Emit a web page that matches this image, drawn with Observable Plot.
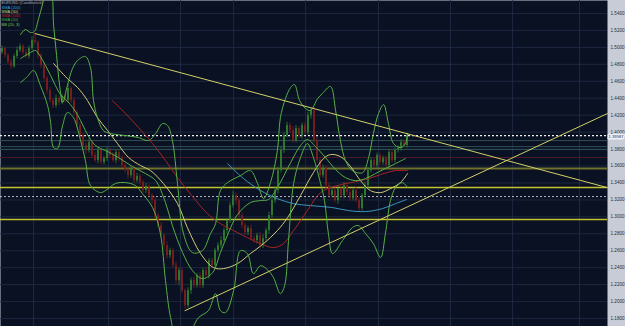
<!DOCTYPE html>
<html><head><meta charset="utf-8">
<script src="https://cdn.jsdelivr.net/npm/d3@7"></script>
<script src="https://cdn.jsdelivr.net/npm/@observablehq/plot@0.6"></script>
<style>html,body{margin:0;padding:0;background:#c8ccd6;overflow:hidden}</style>
</head><body><div id="chart"></div>
<script>
// ---- candle data (EURUSD) ----
const firstOpen = 1.4940;
const close = [
1.4986,1.4904,1.4821,1.4774,1.4892,1.4963,1.5010,1.4939,1.4892,1.4986,1.5081,1.5057,
1.4904,1.4786,1.4632,1.4490,1.4372,1.4313,1.4396,1.4349,1.4420,1.4372,1.4514,
1.4372,1.4231,1.4077,1.3959,1.3841,1.3782,1.3877,1.3723,1.3664,1.3782,1.3640,1.3688,
1.3782,1.3723,1.3664,1.3758,1.3688,1.3605,1.3546,1.3487,1.3570,1.3428,
1.3475,1.3404,1.3310,1.3357,1.3251,1.3192,1.3015,1.2897,1.2779,1.2661,1.2542,1.2601,
1.2424,1.2247,1.2365,1.2129,1.1952,1.2129,1.2247,1.2188,1.2306,1.2188,
1.2365,1.2306,1.2483,1.2424,1.2601,1.2661,1.2720,1.2838,1.2956,1.3133,1.3251,1.3192,
1.3015,1.2897,1.2814,1.2861,1.2743,1.2720,1.2779,1.2661,1.2743,1.2838,
1.3015,1.3192,1.3310,1.3546,1.3782,1.3959,1.4077,1.4018,1.3900,1.4042,1.3959,1.4077,1.3995,
1.4195,1.4254,1.3900,1.3664,1.3487,1.3570,1.3369,1.3251,1.3310,1.3192,1.3333,
1.3251,1.3369,1.3286,1.3215,1.3310,1.3192,1.3097,1.3251,1.3369,
1.3546,1.3664,1.3605,1.3723,1.3640,1.3688,1.3605,1.3758,1.3664,1.3782,
1.3806,1.3877,1.3841,1.39587];
const wickUpPips = [
30,25,20,35,28,40,30,22,35,30,45,82, 20,25,30,28,35,22,40,25,30,28,45,20,
30,25,35,28,30,40,25,35,30,28,22,40, 30,35,25,30,40,28,35,30,25,38,30,28,
35,30,25,40,30,35,28,45,30,25,40,30, 28,20,35,30,45,28,35,30,40,25,30,28,
35,45,30,25,40,50,30,28,35,30,25,40, 30,28,35,45,30,40,35,50,30,45,35,40,
30,45,36,25,30,35,40,28,30,35,25,40, 30,28,35,40,30,25,35,30,40,28,35,30,
25,40,30,31];
const wickDownPips = [
25,30,28,35,22,30,25,35,28,30,25,30, 40,35,30,45,28,35,30,40,25,30,28,35,
30,40,35,28,45,30,35,25,40,30,28,35, 30,25,40,35,30,28,45,30,35,25,40,30,
35,30,45,40,35,30,50,40,35,30,45,59, 35,40,30,45,35,30,40,35,30,45,35,30,
28,35,30,40,35,30,45,35,40,30,35,28, 35,40,30,35,28,45,30,35,40,30,35,28,
30,35,25,40,45,30,35,40,30,28,35,30, 40,35,30,28,45,35,40,30,35,30,28,35,
30,25,35,30];

// ---- indicators (bar index, price) ----
const bbUpperBars = [6.2,7.8,9.5,10.8,12.2,13.5,14.5,16.2,17.2,18.2,19.2,20.2,21.8,23.5,25.2,27.8,29.5,30.5,31.8,33.8,36.2,41.2,45.5,48.8,51.2,53.5,55.2,56.8,58.5,60.5,63.5,66.8,69.5,71.2,72.8,75.2,79.5,82.8,85.2,87.2,89.5,91.8,92.8,94.5,96.2,97.5,99.2,101.2,102.8,105.2,106.8,109.5,111.2,112.8,114.5,116.8,120.2,122.2,123.8,125.5,127.2,128.8,130.5,132.8,134.5,135.2];
const bbUpperPrices = [1.5152,1.5211,1.5175,1.5187,1.5340,1.5506,1.5647,1.5647,1.5258,1.4904,1.4550,1.4349,1.4550,1.4750,1.4845,1.4892,1.4762,1.4372,1.4172,1.4018,1.3983,1.3959,1.3936,1.3900,1.3983,1.4101,1.4077,1.3900,1.3393,1.2802,1.2578,1.2601,1.2802,1.2920,1.3310,1.3404,1.3487,1.3546,1.3393,1.3215,1.3404,1.3782,1.4172,1.4396,1.4526,1.4561,1.4372,1.4278,1.4254,1.4396,1.4455,1.4538,1.4254,1.3900,1.3664,1.3546,1.3522,1.3700,1.3983,1.4219,1.4325,1.4101,1.3865,1.3817,1.3865,1.3983];
const bbMiddleBars = [6.2,9.5,11.2,12.8,14.5,16.2,17.8,19.5,21.2,22.8,24.5,26.2,27.8,29.5,31.2,32.8,34.5,38.8,43.5,47.8,51.2,54.5,56.8,60.2,63.5,66.8,70.2,72.8,75.5,78.5,82.8,86.2,88.8,91.8,96.2,99.5,101.8,104.5,107.8,111.2,114.5,117.8,121.2,124.5,127.8,131.2,134.5];
const bbMiddlePrices = [1.4868,1.4939,1.4963,1.4892,1.4786,1.4668,1.4550,1.4443,1.4384,1.4325,1.4243,1.4136,1.4018,1.3912,1.3841,1.3806,1.3782,1.3700,1.3593,1.3511,1.3428,1.3168,1.2897,1.2578,1.2365,1.2271,1.2342,1.2578,1.2814,1.3027,1.3168,1.3192,1.3204,1.3345,1.3640,1.3841,1.3912,1.3829,1.3700,1.3558,1.3463,1.3428,1.3452,1.3511,1.3570,1.3629,1.3688];
const bbLowerBars = [6.2,8.5,10.5,12.8,15.2,16.2,17.2,18.5,20.2,21.8,23.8,26.2,27.8,29.5,32.8,34.5,37.8,41.2,44.5,46.8,50.2,52.8,54.5,56.2,57.8,62.2,65.5,68.8,71.2,72.8,74.5,77.2,79.5,81.8,83.8,86.2,88.8,90.5,92.8,94.2,95.5,97.2,99.5,101.8,103.8,106.2,107.5,108.8,110.2,113.5,116.8,118.8,121.2,123.8,126.2,127.8,129.5,131.2,133.5,135.2];
const bbLowerPrices = [1.4585,1.4656,1.4727,1.4550,1.4313,1.4113,1.3817,1.3806,1.4077,1.4231,1.4172,1.3900,1.3664,1.3369,1.3286,1.3310,1.3393,1.3404,1.3369,1.3274,1.3109,1.2802,1.2247,1.1811,1.1633,1.1633,1.1811,1.1893,1.2094,1.1893,1.1870,1.2129,1.2601,1.2566,1.2330,1.2424,1.2365,1.2283,1.2094,1.2188,1.2720,1.3393,1.3700,1.3865,1.3700,1.3393,1.3192,1.2802,1.2566,1.2720,1.2873,1.2897,1.2802,1.2684,1.2519,1.2802,1.3192,1.3345,1.3404,1.3345];
const sma50Bars = [17.2,21.8,25.2,28.5,31.8,35.2,38.5,42.2,46.2,49.5,53.8,58.5,61.8,66.2,70.5,73.8,78.5,82.8,87.2,91.8,95.2,99.5,103.8,107.2,109.5,112.8,116.2,119.5,122.8,126.2,129.5,132.8,135.2];
const sma50Prices = [1.4809,1.4632,1.4526,1.4372,1.4172,1.4018,1.3865,1.3700,1.3605,1.3546,1.3393,1.3156,1.2873,1.2566,1.2401,1.2389,1.2448,1.2566,1.2684,1.2838,1.2991,1.3251,1.3522,1.3688,1.3735,1.3711,1.3593,1.3428,1.3310,1.3286,1.3333,1.3404,1.3511];
const sma100Bars = [36.8,41.2,45.5,50.2,54.5,58.5,63.8,68.5,72.8,77.2,81.8,86.2,90.5,93.8,97.2,101.8,106.2,110.5,116.2,121.2,126.2,131.2,135.2];
const sma100Prices = [1.4372,1.4219,1.4054,1.3865,1.3664,1.3463,1.3227,1.3038,1.2920,1.2838,1.2755,1.2684,1.2637,1.2684,1.2838,1.3074,1.3286,1.3357,1.3404,1.3440,1.3499,1.3546,1.3546];
const sma200Bars = [75.2,80.5,86.2,91.8,97.2,102.8,110.2,115.5,121.2,126.8,131.2,134.8];
const sma200Prices = [1.3629,1.3452,1.3310,1.3215,1.3156,1.3133,1.3109,1.3074,1.3062,1.3097,1.3156,1.3204];

// ---- trend lines and levels ----
const trendDownBars = [11, 201.8];
const trendDownPrices = [1.5163, 1.3345];
const trendUpBars = [61, 201.8];
const trendUpPrices = [1.1893, 1.4219];
const levelsTeal = [1.3900, 1.3829, 1.3794];
const levelsMaroon = [1.3700];
const levelsOlive = [1.3570];
const levelsYellow = [1.3345, 1.2968];
const levelsDashed = [1.3239];

// ---- axis / grid ----
const yTicks = [1.18,1.20,1.22,1.24,1.26,1.28,1.30,1.32,1.34,1.36,1.38,1.40,1.42,1.44,1.46,1.48,1.50,1.52,1.54];
const gridBars = [10.5, 35.5, 59.5, 77.2, 101.2, 125.5, 149.5, 170.2, 192.5];
const legendLabels = ["EURUSD (Candlestick)", "SMA (200)", "SMA (50)", "SMA (100)", "SMA (20)", "BB (20, 3)"];

// ---- build ----
const lastClose = close[close.length - 1];
const bars = close.map((c, i) => {
  const o = i === 0 ? firstOpen : close[i - 1];
  return {i, open: o, close: c,
    high: Math.max(o, c) + (wickUpPips[i] ?? 30) / 10000,
    low: Math.min(o, c) - (wickDownPips[i] ?? 30) / 10000};
});
const pairs = (bs, ps) => bs.map((b, k) => [b, ps[k]]);
const UP = "#33802e", DOWN = "#7e1f1f";
const legendColors = ["#a8a8b4", "#3aa6d6", "#d8d264", "#c42424", "#44b040", "#7fc85a"];
const lineOpts = (stroke, w = 1) => ({x: d => d[0], y: d => d[1], stroke, strokeWidth: w, curve: "catmull-rom", clip: true});

const chart = Plot.plot({
  width: 625, height: 326,
  marginLeft: 0, marginRight: 18, marginTop: 0, marginBottom: 0,
  style: {background: "#c8ccd6", color: "#2a2c34", fontFamily: "Liberation Sans, Arial, sans-serif"},
  x: {domain: [-0.5, 201.83], axis: null},
  y: {domain: [1.1706, 1.5553], axis: null},
  color: {type: "identity"},
  marks: [
    Plot.frame({fill: "#0a1122"}),
    Plot.gridY(yTicks, {stroke: "#222d47", strokeOpacity: 0.8}),
    Plot.gridX(gridBars, {stroke: "#222d47", strokeOpacity: 0.8}),
    Plot.axisY(yTicks, {anchor: "right", tickSize: 0, tickPadding: 3, fontSize: 4.6, tickFormat: d3.format(".4f")}),
    // horizontal levels
    Plot.ruleY(levelsTeal, {stroke: "#2e4f52", strokeWidth: 1}),
    Plot.ruleY(levelsMaroon, {stroke: "#4a1b2a", strokeWidth: 1}),
    Plot.ruleY(levelsOlive, {stroke: "#6f702a", strokeWidth: 2}),
    Plot.ruleY(levelsYellow, {stroke: "#c2c232", strokeWidth: 1.5}),
    Plot.ruleY(levelsDashed, {stroke: "#b8b8c4", strokeWidth: 1, strokeDasharray: "2,2"}),
    Plot.ruleY([lastClose], {stroke: "#f0f0f0", strokeWidth: 1.2, strokeDasharray: "2,2"}),
    // candles
    Plot.ruleX(bars, {x: "i", y1: "low", y2: "high", stroke: d => d.close >= d.open ? UP : DOWN, strokeWidth: 1, strokeOpacity: 0.8}),
    Plot.ruleX(bars, {x: "i", y1: "open", y2: "close", stroke: d => d.close >= d.open ? UP : DOWN, strokeWidth: 2, strokeOpacity: 0.85}),
    // indicators
    Plot.line(pairs(sma200Bars, sma200Prices), lineOpts("#3b96bd")),
    Plot.line(pairs(sma100Bars, sma100Prices), lineOpts("#a82326")),
    Plot.line(pairs(sma50Bars, sma50Prices), lineOpts("#d2cc78")),
    Plot.line(pairs(bbMiddleBars, bbMiddlePrices), lineOpts("#56b044")),
    Plot.line(pairs(bbUpperBars, bbUpperPrices), lineOpts("#56b044")),
    Plot.line(pairs(bbLowerBars, bbLowerPrices), lineOpts("#56b044")),
    // trend lines
    Plot.line(pairs(trendDownBars, trendDownPrices), {x: d => d[0], y: d => d[1], stroke: "#d2d06a", strokeWidth: 1}),
    Plot.line(pairs(trendUpBars, trendUpPrices), {x: d => d[0], y: d => d[1], stroke: "#d2d06a", strokeWidth: 1}),
    // current price label
    Plot.text([lastClose], {y: d => d, frameAnchor: "right", dx: 1, dy: 1.5, textAnchor: "start", text: d => d3.format(".5f")(d), fontSize: 4.2, fill: "#1a2a5a", stroke: "#eef2fb", strokeWidth: 3, paintOrder: "stroke"}),
    // legend
    ...legendLabels.map((t, k) => Plot.text([t], {text: d => d, frameAnchor: "top-left", dx: 1, dy: 2.5 + 4.3 * k, textAnchor: "start", lineAnchor: "middle", fontSize: 4, fill: legendColors[k]}))
  ]
});
document.getElementById("chart").appendChild(chart);
</script></body></html>
